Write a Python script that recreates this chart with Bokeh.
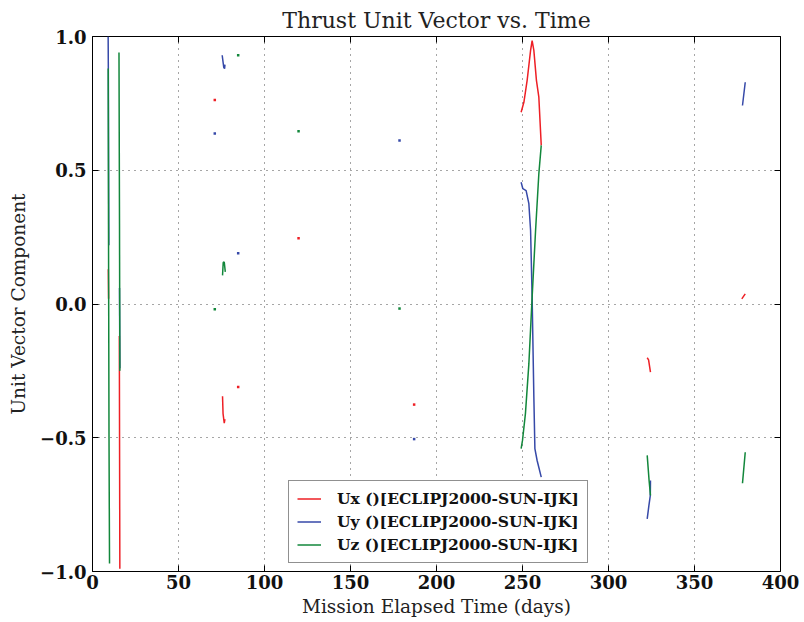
import numpy as np
from bokeh.plotting import figure
from bokeh.models import (LinearAxis, FixedTicker, CustomJSTickFormatter, Range1d)
from bokeh.embed import file_html
from bokeh.resources import INLINE

nan = float("nan")

# ---- data; NaN separates burn arcs ----
t_ux = [9.2, 9.35, nan,
        15.6, 15.9, nan,
        75.6, 75.9, 76.6, 77.0, nan,
        249.2, 250.8, 252.7, 254.7, 255.6, 256.6, 258.1, 259.5, 260.9, nan,
        322.5, 323.3, 324.4, nan,
        377.5, 379.5]
ux = [0.13, 0.02, nan,
      -0.12, -0.99, nan,
      -0.345, -0.41, -0.445, -0.43, nan,
      0.717, 0.754, 0.836, 0.948, 0.985, 0.948, 0.836, 0.773, 0.593, nan,
      -0.201, -0.209, -0.255, nan,
      0.019, 0.038]

t_uy = [9.1, 9.2, 9.5, nan,
        15.7, 15.9, nan,
        75.4, 75.8, 76.3, 76.8, 77.0, nan,
        249.2, 250.2, 252.1, 253.7, 254.7, 255.6, 256.6, 257.2, 258.5, 260.9, nan,
        324.4, 324.3, 323.5, 322.5, nan,
        377.9, 379.5]
uy = [1.0, 0.88, 0.22, nan,
      0.06, -0.24, nan,
      0.93, 0.91, 0.885, 0.88, 0.895, nan,
      0.455, 0.431, 0.424, 0.375, 0.275, 0.025, -0.348, -0.541, -0.585, -0.647, nan,
      -0.66, -0.716, -0.753, -0.803, nan,
      0.742, 0.829]

t_uz = [9.15, 9.3, 9.6, 9.9, nan,
        15.4, 15.7, 15.9, nan,
        75.6, 76.0, 76.6, 77.2, nan,
        249.2, 250.0, 251.7, 253.7, 255.6, 257.6, 259.5, 260.9, nan,
        322.5, 323.6, 324.4, nan,
        377.9, 379.5]
uz = [0.88, 0.3, -0.5, -0.97, nan,
      0.94, 0.3, -0.25, nan,
      0.107, 0.155, 0.157, 0.12, nan,
      -0.541, -0.51, -0.41, -0.224, 0.025, 0.275, 0.487, 0.593, nan,
      -0.566, -0.66, -0.716, nan,
      -0.67, -0.554]

# isolated single samples
dot_t_ux = [71.1, 84.7, 119.8, 187.0]
dot_ux = [0.763, -0.31, 0.246, -0.376]
dot_t_uy = [71.1, 84.7, 178.5, 187.0]
dot_uy = [0.637, 0.19, 0.611, -0.505]
dot_t_uz = [71.1, 84.7, 119.8, 178.5]
dot_uz = [-0.02, 0.93, 0.646, -0.017]

x_ticks = [0, 50, 100, 150, 200, 250, 300, 350, 400]
y_ticks = [-1.0, -0.5, 0.0, 0.5, 1.0]

labels = ["Ux ()[ECLIPJ2000-SUN-IJK]", "Uy ()[ECLIPJ2000-SUN-IJK]", "Uz ()[ECLIPJ2000-SUN-IJK]"]
colors = ["#ee1f25", "#3649a8", "#12873b"]

SERIF = "DejaVu Serif"

p = figure(width=804, height=622, output_backend="svg", toolbar_location=None,
           x_range=Range1d(0, 400), y_range=Range1d(-1.0, 1.0),
           min_border_left=92, min_border_right=24, min_border_top=36, min_border_bottom=51,
           title="Thrust Unit Vector vs. Time")
p.title.align = "center"
p.title.text_font = SERIF
p.title.text_font_style = "normal"
p.title.text_font_size = "22px"
p.title.text_color = "#222222"
p.title.offset = 0
p.title.standoff = 7

p.outline_line_color = "black"
p.outline_line_width = 1
p.background_fill_color = "white"
p.border_fill_color = "white"

xt = FixedTicker(ticks=x_ticks)
yt = FixedTicker(ticks=y_ticks)
yfmt = CustomJSTickFormatter(code="return tick.toFixed(1).replace('-', '\u2212');")
blank = CustomJSTickFormatter(code="return '';")

for ax in p.xaxis:
    ax.ticker = xt
for ax in p.yaxis:
    ax.ticker = yt
    ax.formatter = yfmt

def style_axis(ax, show_labels=True):
    ax.major_tick_in = 6
    ax.major_tick_out = 0
    ax.minor_tick_in = 0
    ax.minor_tick_out = 0
    ax.axis_line_color = None
    ax.major_tick_line_color = "black"
    ax.major_label_text_font = SERIF
    ax.major_label_text_font_style = "bold"
    ax.major_label_text_font_size = "18px" if show_labels else "1px"
    ax.major_label_text_color = "#111111"
    ax.axis_label_text_font = SERIF
    ax.axis_label_text_font_style = "normal"
    ax.axis_label_text_font_size = "18.5px"
    ax.axis_label_text_color = "#222222"

style_axis(p.xaxis[0])
style_axis(p.yaxis[0])
p.xaxis[0].axis_label = "Mission Elapsed Time (days)"
p.yaxis[0].axis_label = "Unit Vector Component"
p.xaxis[0].major_label_standoff = 3
p.yaxis[0].major_label_standoff = 6
p.xaxis[0].axis_label_standoff = 4
p.yaxis[0].axis_label_standoff = 8

top = LinearAxis(ticker=FixedTicker(ticks=x_ticks), formatter=blank)
style_axis(top, False)
top.major_label_standoff = 0
right = LinearAxis(ticker=FixedTicker(ticks=y_ticks), formatter=blank)
style_axis(right, False)
right.major_label_standoff = 0
p.add_layout(top, "above")
p.add_layout(right, "right")

p.xgrid.ticker = xt
p.ygrid.ticker = yt
for g in (p.xgrid[0], p.ygrid[0]):
    g.grid_line_color = "black"
    g.grid_line_alpha = 0.7
    g.grid_line_width = 1
    g.grid_line_dash = "1 5"

series = [(t_ux, ux, dot_t_ux, dot_ux), (t_uy, uy, dot_t_uy, dot_uy), (t_uz, uz, dot_t_uz, dot_uz)]
for (tt, vv, dt, dv), lab, col in zip(series, labels, colors):
    p.line(x=tt, y=vv, line_color=col, line_width=1.5, legend_label=lab)
    p.scatter(x=dt, y=dv, marker="square", size=2.5, fill_color=col, line_color=None)

lg = p.legend[0]
lg.location = (196, 8)
lg.margin = 0
lg.padding = 8
lg.spacing = 4
lg.label_height = 17
lg.glyph_height = 17
lg.glyph_width = 24
lg.label_standoff = 16
lg.label_text_font = SERIF
lg.label_text_font_style = "bold"
lg.label_text_font_size = "15.5px"
lg.label_text_color = "#111111"
lg.border_line_color = "#222222"
lg.border_line_width = 1.5
lg.background_fill_color = "white"
lg.background_fill_alpha = 1.0

open("out.html", "w").write(file_html(p, INLINE))
